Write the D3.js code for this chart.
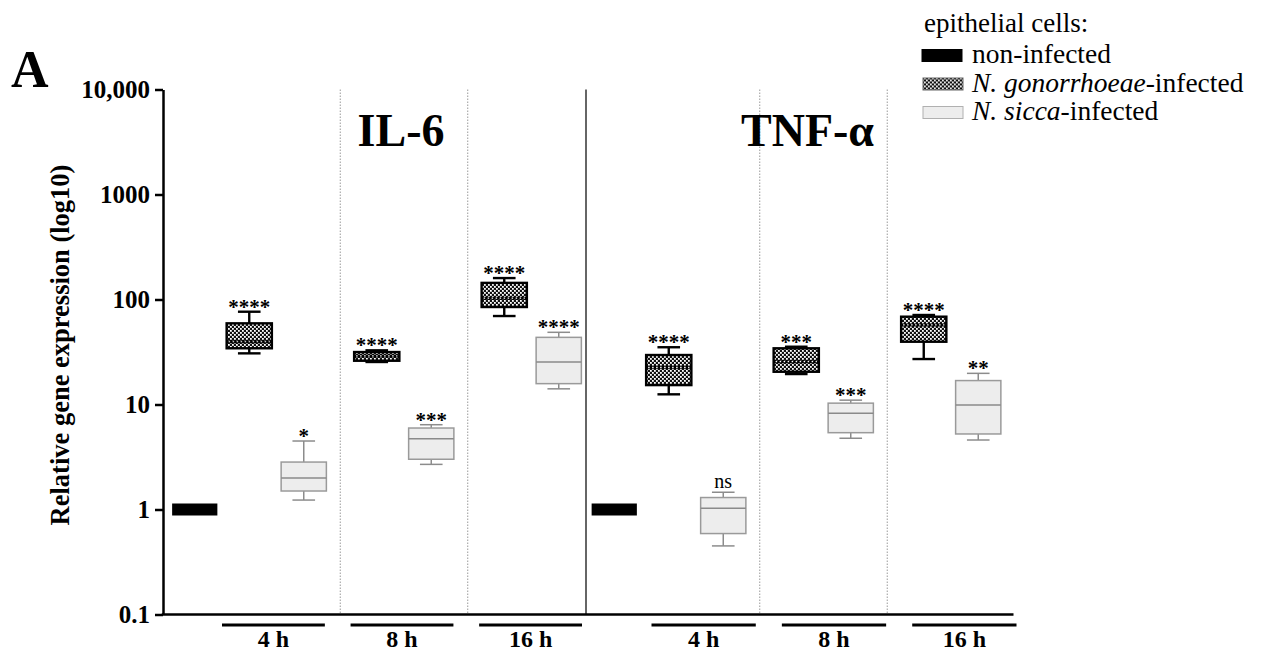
<!DOCTYPE html>
<html>
<head>
<meta charset="utf-8">
<script src="https://cdnjs.cloudflare.com/ajax/libs/d3/7.8.5/d3.min.js"></script>
<style>
body { margin: 0; background: #fff; }
svg text { font-family: "Liberation Serif", "Times New Roman", serif; fill: #000; }
</style>
</head>
<body>
<div id="chart"></div>
<script>
// panels and time points
var cytokines = ["IL-6", "TNF-α"];
var timePoints = ["4 h", "8 h", "16 h"];

// legend: [italic part, plain part]
var legendTitle = "epithelial cells:";
var legendLabels = [["", "non-infected"], ["N. gonorrhoeae", "-infected"], ["N. sicca", "-infected"]];

// y axis ticks
var yTicks = [0.1, 1, 10, 100, 1000, 10000];
var yTickLabels = ["0.1", "1", "10", "100", "1000", "10,000"];

// box summaries: [min, q1, median, q3, max]
var il6Control = [1, 1, 1, 1, 1];
var il6Gon = [[30.7, 34.3, 39.6, 59.3, 76.5], [25.4, 26.1, 29, 31.6, 32.8], [69.6, 84.8, 103, 144, 160]];
var il6Sicca = [[1.23, 1.5, 2.0, 2.83, 4.49], [2.69, 3.01, 4.72, 5.97, 6.42], [14.1, 15.8, 25.4, 43.6, 48.7]];
var il6Sig = [["****", "*"], ["****", "***"], ["****", "****"]];

var tnfControl = [1, 1, 1, 1, 1];
var tnfGon = [[12.5, 15.3, 22.6, 29.6, 35.1], [19.5, 20.5, 25.6, 34.3, 35.5], [27.1, 39.6, 57.2, 68.6, 71.2]];
var tnfSicca = [[0.45, 0.59, 1.03, 1.30, 1.46], [4.77, 5.39, 8.24, 10.3, 11.0], [4.59, 5.24, 9.89, 16.9, 19.8]];
var tnfSig = [["****", "ns"], ["***", "***"], ["****", "**"]];

var width = 1262,
    height = 653;

var svg = d3.select("#chart")
    .append("svg")
    .attr("width", width)
    .attr("height", height);

svg.append("rect").attr("width", width).attr("height", height).attr("fill", "#fff");

// checkered fill for the gonorrhoeae boxes
var defs = svg.append("defs");
var pat = defs.append("pattern")
    .attr("id", "checker")
    .attr("patternUnits", "userSpaceOnUse")
    .attr("width", 4)
    .attr("height", 4);
pat.append("rect").attr("width", 4).attr("height", 4).attr("fill", "#111");
pat.append("rect").attr("x", 0).attr("y", 0).attr("width", 1.8).attr("height", 1.8).attr("fill", "#fff");
pat.append("rect").attr("x", 2).attr("y", 2).attr("width", 1.8).attr("height", 1.8).attr("fill", "#fff");

// scales
var y = d3.scaleLog()
    .domain([0.1, 10000])
    .range([614.5, 89.5]);

var xPanel = d3.scaleBand()
    .domain(cytokines)
    .range([222, 1005.5])
    .paddingInner(0.1323);

var xGroup = d3.scaleBand()
    .domain(timePoints)
    .range([0, xPanel.bandwidth()])
    .paddingInner(0.145);

var xSub = d3.scaleBand()
    .domain(["gon", "sicca"])
    .range([0, xGroup.bandwidth()]);

var boxW = xSub.bandwidth() * 0.83;
var capW = boxW * 0.5;
var axisX = 163;
var axisY = y(0.1);
var topY = y(10000);

// build box records
var boxes = [];
cytokines.forEach(function(c, i) {
    var gon = i ? tnfGon : il6Gon;
    var sic = i ? tnfSicca : il6Sicca;
    var sig = i ? tnfSig : il6Sig;
    boxes.push({ panel: c, time: null, kind: "control", s: i ? tnfControl : il6Control, sig: "" });
    timePoints.forEach(function(t, j) {
        boxes.push({ panel: c, time: t, kind: "gon", s: gon[j], sig: sig[j][0] });
        boxes.push({ panel: c, time: t, kind: "sicca", s: sic[j], sig: sig[j][1] });
    });
});

function cx(d) {
    if (d.kind == "control") return xPanel(d.panel) - xSub.step() / 2;
    return xPanel(d.panel) + xGroup(d.time) + xSub(d.kind) + xSub.bandwidth() / 2;
}

// separators between time points (dotted) and between panels (solid)
var seps = svg.append("g");
cytokines.forEach(function(c, i) {
    timePoints.slice(1).forEach(function(t, j) {
        var prevEnd = xPanel(c) + xGroup(timePoints[j]) + xGroup.bandwidth();
        var xs = (prevEnd + xPanel(c) + xGroup(t)) / 2;
        seps.append("line")
            .attr("x1", xs).attr("x2", xs)
            .attr("y1", topY).attr("y2", axisY)
            .attr("stroke", "#9a9a9a")
            .attr("stroke-width", 1)
            .attr("stroke-dasharray", "1.5,1.5");
    });
});
var panelEdge = xPanel(cytokines[0]) + xPanel.bandwidth();
seps.append("line")
    .attr("x1", panelEdge).attr("x2", panelEdge)
    .attr("y1", topY).attr("y2", axisY)
    .attr("stroke", "#333")
    .attr("stroke-width", 1.5);

// boxes
var boxG = svg.append("g")
    .selectAll("g")
    .data(boxes)
    .join("g");

boxG.each(function(d) {
    var g = d3.select(this);
    var x = cx(d);
    if (d.kind == "control") {
        g.append("rect")
            .attr("x", x - boxW / 2)
            .attr("y", y(d.s[2]) - 6)
            .attr("width", boxW)
            .attr("height", 12)
            .attr("fill", "#000");
        return;
    }
    var dark = d.kind == "gon";
    var col = dark ? "#000" : "#8c8c8c";
    var sw = dark ? 2.4 : 1.5;

    // whiskers
    g.append("line")
        .attr("x1", x).attr("x2", x)
        .attr("y1", y(d.s[4])).attr("y2", y(d.s[0]))
        .attr("stroke", col).attr("stroke-width", sw);
    [d.s[0], d.s[4]].forEach(function(v) {
        g.append("line")
            .attr("x1", x - capW / 2).attr("x2", x + capW / 2)
            .attr("y1", y(v)).attr("y2", y(v))
            .attr("stroke", col).attr("stroke-width", sw);
    });

    // box
    g.append("rect")
        .attr("x", x - boxW / 2)
        .attr("y", y(d.s[3]))
        .attr("width", boxW)
        .attr("height", y(d.s[1]) - y(d.s[3]))
        .attr("fill", dark ? "url(#checker)" : "#ededed")
        .attr("stroke", dark ? "#000" : "#9a9a9a")
        .attr("stroke-width", sw);

    // median
    if (dark) {
        g.append("line")
            .attr("x1", x - boxW / 2).attr("x2", x + boxW / 2)
            .attr("y1", y(d.s[2])).attr("y2", y(d.s[2]))
            .attr("stroke", "#000").attr("stroke-width", 3);
        g.append("line")
            .attr("x1", x - boxW / 2 + 2).attr("x2", x + boxW / 2 - 2)
            .attr("y1", y(d.s[2])).attr("y2", y(d.s[2]))
            .attr("stroke", "#fff").attr("stroke-width", 1.2)
            .attr("stroke-dasharray", "1.5,2.5");
    } else {
        g.append("line")
            .attr("x1", x - boxW / 2).attr("x2", x + boxW / 2)
            .attr("y1", y(d.s[2])).attr("y2", y(d.s[2]))
            .attr("stroke", "#8a8a8a").attr("stroke-width", 1.5);
    }

    // significance
    var isNs = d.sig == "ns";
    g.append("text")
        .attr("x", x)
        .attr("y", y(d.s[4]) + (isNs ? -4 : 2))
        .attr("text-anchor", "middle")
        .attr("font-size", isNs ? 20 : 21)
        .attr("font-weight", isNs ? "normal" : "bold")
        .text(d.sig);
});

// y axis
var yAxis = svg.append("g")
    .attr("transform", "translate(" + axisX + ",0)")
    .call(d3.axisLeft(y)
        .tickValues(yTicks)
        .tickFormat(function(d, i) { return yTickLabels[i]; })
        .tickSize(8)
        .tickSizeOuter(0)
        .tickPadding(5));
yAxis.select(".domain").attr("stroke", "#000").attr("stroke-width", 2.5);
yAxis.selectAll(".tick line").attr("stroke", "#000").attr("stroke-width", 2.5);
yAxis.selectAll(".tick text")
    .attr("font-size", 25)
    .attr("font-weight", "bold")
    .style("font-family", "Liberation Serif, serif")
    .attr("fill", "#000");

// x axis line
svg.append("line")
    .attr("x1", axisX - 1.25)
    .attr("x2", xPanel.range()[1] + 8)
    .attr("y1", axisY).attr("y2", axisY)
    .attr("stroke", "#000")
    .attr("stroke-width", 2.5);

// time point bars and labels
cytokines.forEach(function(c, i) {
    var px = xPanel(c);
    var lab = d3.scaleBand()
        .domain(timePoints)
        .range([px + (i ? 10 : 0), px + xPanel.bandwidth() - 4 + (i ? 15 : 0)])
        .paddingInner(0.2);
    var tg = svg.append("g")
        .selectAll("g")
        .data(timePoints)
        .join("g");
    tg.append("line")
        .attr("x1", function(d) { return lab(d); })
        .attr("x2", function(d) { return lab(d) + lab.bandwidth(); })
        .attr("y1", 625).attr("y2", 625)
        .attr("stroke", "#000")
        .attr("stroke-width", 3);
    tg.append("text")
        .attr("x", function(d) { return lab(d) + lab.bandwidth() / 2; })
        .attr("y", 647)
        .attr("text-anchor", "middle")
        .attr("font-size", 24)
        .attr("font-weight", "bold")
        .text(function(d) { return d; });
});

// panel titles
svg.append("g")
    .selectAll("text")
    .data(cytokines)
    .join("text")
    .attr("x", function(d) { return xPanel(d) + xPanel.bandwidth() / 2; })
    .attr("dx", function(d, i) { return i ? -16 : -3; })
    .attr("y", 146)
    .attr("text-anchor", "middle")
    .attr("font-size", 46)
    .attr("font-weight", "bold")
    .text(function(d) { return d; });

// y axis title
svg.append("text")
    .attr("transform", "translate(69,345) rotate(-90)")
    .attr("text-anchor", "middle")
    .attr("font-size", 26.5)
    .attr("font-weight", "bold")
    .text("Relative gene expression (log10)");

// panel letter
svg.append("text")
    .attr("x", 11)
    .attr("y", 87)
    .attr("font-size", 52)
    .attr("font-weight", "bold")
    .text("A");

// legend
var legend = svg.append("g").attr("transform", "translate(922,0)");
legend.append("text")
    .attr("x", 2)
    .attr("y", 32)
    .attr("font-size", 27)
    .text(legendTitle);

var rows = legend.selectAll(".row")
    .data(legendLabels)
    .join("g")
    .attr("class", "row")
    .attr("transform", function(d, i) { return "translate(0," + (63 + i * 28.5) + ")"; });

rows.append("rect")
    .attr("x", function(d, i) { return i ? 1 : 0; })
    .attr("y", -13.5)
    .attr("width", 40)
    .attr("height", 12)
    .attr("fill", function(d, i) { return ["#000", "url(#checker)", "#ededed"][i]; })
    .attr("stroke", function(d, i) { return ["#000", "#666", "#b0b0b0"][i]; })
    .attr("stroke-width", 1);

var lt = rows.append("text")
    .attr("x", 50)
    .attr("y", 0)
    .attr("font-size", 27.5);
lt.append("tspan")
    .attr("font-style", "italic")
    .text(function(d) { return d[0]; });
lt.append("tspan")
    .text(function(d) { return d[1]; });
</script>
</body>
</html>
